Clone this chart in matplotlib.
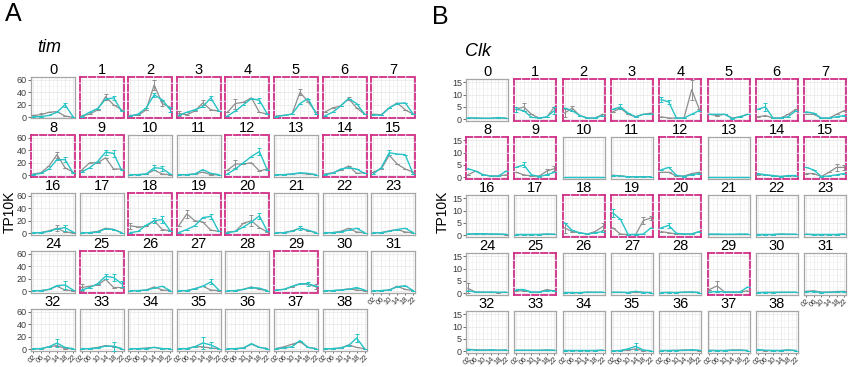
import matplotlib
matplotlib.use('Agg')
import matplotlib.pyplot as plt
from matplotlib.ticker import FixedLocator

plt.rcParams['font.family'] = ['Liberation Sans', 'DejaVu Sans']

times = ['02', '06', '10', '14', '18', '22']
clusters = list(range(39))
highlight = [1, 2, 3, 4, 5, 6, 7, 8, 9, 12, 14, 15, 18, 19, 20, 25, 29]

# ---- tim (panel A), TP10K ----
tim_gray = [
    [3, 4, 8, 9, 2, 0], [2, 5, 12, 33, 20, 12], [3, 3, 12, 52, 22, 16], [6, 4, 10, 23, 12, 10],
    [8, 22, 24, 31, 8, 5], [2, 3, 5, 40, 25, 8], [8, 15, 18, 30, 15, 5], [5, 4, 15, 23, 12, 5],
    [2, 4, 15, 33, 12, 5], [8, 20, 20, 28, 10, 10], [1, 1, 2, 8, 2, 1], [1, 1, 2, 5, 1, 1],
    [8, 18, 18, 20, 7, 10], [1, 1, 2, 3, 2, 1], [2, 4, 8, 15, 3, 4], [5, 10, 32, 18, 10, 5],
    [1, 1, 4, 8, 2, 1], [1, 1, 3, 8, 6, 1], [12, 10, 11, 20, 6, 4], [12, 31, 20, 18, 5, 3],
    [2, 3, 16, 20, 9, 2], [1, 1, 4, 8, 4, 1], [1, 1, 3, 8, 2, 1], [1, 1, 4, 6, 2, 1],
    [1, 1, 3, 8, 2, 1], [6, 8, 10, 19, 6, 6], [1, 1, 2, 7, 2, 1], [1, 1, 4, 8, 2, 1],
    [1, 1, 3, 7, 3, 1], [2, 3, 7, 12, 11, 7], [1, 1, 2, 4, 2, 1], [1, 1, 2, 8, 3, 1],
    [1, 1, 4, 6, 1, 1], [1, 1, 3, 6, 4, 1], [1, 1, 2, 3, 1, 1], [1, 1, 4, 4, 2, 1],
    [1, 1, 2, 8, 3, 1], [1, 4, 8, 12, 3, 1], [1, 1, 2, 7, 3, 1],
]
tim_cyan = [
    [1, 1, 3, 8, 20, 1], [1, 8, 14, 29, 31, 10], [2, 5, 15, 36, 28, 12], [3, 8, 12, 17, 31, 10],
    [2, 10, 20, 30, 27, 5], [1, 3, 5, 22, 30, 6], [2, 8, 18, 30, 22, 5], [4, 3, 15, 22, 23, 5],
    [1, 3, 10, 25, 25, 4], [5, 12, 22, 37, 35, 8], [1, 1, 2, 12, 11, 2], [1, 1, 2, 9, 3, 1],
    [2, 10, 20, 30, 38, 8], [1, 1, 2, 4, 3, 1], [1, 3, 10, 12, 10, 3], [2, 12, 36, 34, 33, 2],
    [1, 1, 3, 7, 9, 2], [1, 1, 2, 7, 6, 1], [1, 3, 13, 20, 22, 4], [1, 6, 12, 25, 27, 3],
    [1, 3, 10, 18, 28, 3], [1, 1, 3, 8, 5, 1], [1, 1, 2, 5, 8, 1], [1, 1, 3, 6, 8, 1],
    [1, 1, 3, 9, 10, 2], [2, 6, 12, 24, 22, 12], [1, 1, 2, 5, 8, 1], [1, 1, 4, 8, 15, 2],
    [1, 1, 3, 6, 5, 1], [2, 3, 8, 12, 12, 8], [1, 1, 2, 3, 6, 2], [1, 1, 2, 7, 9, 1],
    [1, 1, 4, 10, 3, 1], [1, 1, 2, 5, 5, 1], [1, 1, 1, 3, 1, 1], [1, 1, 4, 10, 7, 1],
    [1, 1, 2, 9, 3, 1], [1, 2, 4, 14, 3, 1], [1, 1, 2, 6, 18, 1],
]
tim_gray_err = {
    0: [0, 3, 0, 0, 0, 0], 1: [0, 0, 0, 5, 0, 0], 2: [0, 0, 0, 8, 4, 0], 3: [4, 0, 0, 4, 0, 0],
    4: [0, 8, 0, 0, 0, 0], 5: [0, 0, 0, 5, 0, 0], 6: [0, 0, 0, 3, 0, 0], 8: [0, 0, 0, 5, 0, 0],
    12: [0, 6, 0, 0, 0, 0], 16: [0, 0, 0, 5, 0, 0], 18: [5, 0, 0, 0, 0, 0], 19: [0, 6, 0, 0, 0, 0],
    20: [0, 0, 0, 9, 0, 0], 25: [5, 0, 0, 0, 0, 0], 29: [0, 0, 0, 0, 0, 4],
}
tim_cyan_err = {
    0: [0, 0, 0, 0, 3, 0], 1: [0, 0, 0, 0, 3, 0], 2: [0, 0, 0, 3, 0, 4], 3: [0, 0, 0, 0, 3, 0],
    4: [0, 0, 0, 0, 4, 0], 8: [0, 0, 0, 0, 4, 0], 9: [0, 0, 0, 4, 5, 0], 10: [0, 0, 0, 4, 4, 0],
    12: [0, 0, 0, 0, 6, 0], 15: [0, 0, 4, 0, 0, 0], 16: [0, 0, 0, 0, 5, 0], 18: [0, 0, 0, 4, 5, 0],
    19: [0, 0, 0, 0, 4, 0], 20: [0, 0, 0, 0, 5, 0], 21: [0, 0, 0, 3, 0, 0], 24: [0, 0, 0, 0, 6, 0],
    25: [0, 0, 0, 4, 5, 5], 27: [0, 0, 0, 0, 4, 0], 29: [0, 0, 0, 0, 3, 0], 32: [0, 0, 0, 6, 0, 0],
    33: [0, 0, 0, 0, 7, 0], 35: [0, 0, 0, 9, 5, 0], 38: [0, 0, 0, 0, 7, 0],
}

# ---- Clk (panel B), TP10K ----
clk_gray = [
    [0.5, 0.5, 0.4, 0.4, 0.6, 0.4], [4, 5, 2, 0.5, 0.8, 5], [2.5, 4.5, 1.5, 0.5, 0.5, 2], [3, 4.5, 2, 1, 2, 2.5],
    [1, 0.5, 0.5, 0.5, 12, 4], [2, 1.5, 2, 0.5, 1, 2], [1, 1.5, 0.5, 0.5, 2, 4], [2, 2, 0.5, 0.5, 2, 3.5],
    [1, 2.5, 1, 0.5, 0.5, 1], [2, 1, 0.5, 0.5, 2.5, 3.5], [0.3, 0.3, 0.3, 0.3, 0.3, 0.3], [0.8, 0.6, 0.2, 0.2, 0.2, 0.2],
    [2, 2, 0.5, 0.5, 1.5, 2], [0.2, 0.2, 0.2, 0.2, 0.2, 0.2], [1, 1, 0.5, 0.3, 0.5, 0.5], [1.5, 1.5, 0.3, 2, 4, 4],
    [0.5, 0.5, 0.6, 0.5, 0.4, 0.3], [0.3, 0.3, 0.3, 0.3, 0.5, 0.4], [3, 1.5, 1, 0.5, 1.5, 3.5], [3, 0.5, 0.3, 0.3, 6, 7],
    [1.5, 1, 0.5, 0.5, 0.5, 1.5], [0.4, 0.4, 0.4, 0.4, 0.4, 0.4], [0.3, 0.3, 0.3, 0.5, 0.4, 0.4], [0.4, 0.3, 0.3, 0.3, 0.3, 0.5],
    [2, 0.5, 0.5, 0.4, 0.3, 0.4], [1, 1, 0.5, 0.5, 1.5, 1], [0.3, 0.3, 0.2, 0.5, 0.4, 0.4], [0.4, 0.4, 0.3, 0.5, 0.4, 0.3],
    [0.3, 0.4, 0.3, 0.5, 0.5, 0.3], [1.5, 3, 0.5, 0.5, 0.5, 1], [0.3, 0.4, 0.4, 0.4, 0.4, 0.4], [0.8, 1, 0.5, 0.5, 0.7, 0.8],
    [0.8, 0.6, 0.5, 0.5, 0.4, 0.5], [0.4, 0.4, 0.4, 0.4, 0.5, 0.4], [0.3, 0.3, 0.3, 0.3, 0.3, 0.5], [0.2, 0.3, 0.5, 1, 0.3, 0.2],
    [0.3, 0.3, 0.4, 0.5, 0.5, 0.3], [0.4, 0.3, 0.3, 0.5, 0.5, 0.3], [0.6, 0.3, 0.3, 0.3, 0.5, 0.3],
]
clk_cyan = [
    [0.6, 0.5, 0.4, 0.4, 0.7, 0.4], [4, 3.5, 0.8, 0.5, 1, 3.5], [4.5, 3.5, 1.5, 0.5, 0.5, 1.5], [4, 5, 2.5, 1, 2, 2],
    [8, 7, 0.5, 0.5, 2, 3.5], [2, 2, 2, 0.3, 1, 2], [4, 5, 0.5, 0.5, 1, 3.5], [3, 2.5, 0.5, 0.5, 1, 1.5],
    [3.5, 2.5, 1, 0.5, 0.5, 2.5], [4, 5, 1, 0.3, 1, 2], [0.3, 0.3, 0.3, 0.3, 0.3, 0.3], [0.7, 0.5, 0.2, 0.2, 0.2, 0.2],
    [3, 4, 0.8, 0.3, 1, 1.5], [0.2, 0.2, 0.2, 0.2, 0.2, 0.2], [1.5, 1, 0.7, 0.3, 0.7, 0.7], [4, 3, 0.3, 0.5, 1, 1.5],
    [0.5, 0.6, 0.6, 0.5, 0.5, 0.4], [0.3, 0.3, 0.3, 0.3, 0.5, 0.4], [5, 2, 1, 0.5, 1, 1.5], [9, 6.5, 0.3, 0.3, 0.5, 3],
    [3, 4, 0.8, 0.5, 0.5, 1.5], [0.5, 0.5, 0.4, 0.4, 0.5, 0.5], [0.3, 0.3, 0.3, 0.5, 0.4, 0.4], [0.4, 0.3, 0.3, 0.3, 0.3, 0.5],
    [1, 0.5, 0.4, 0.5, 0.4, 0.4], [1.5, 1.5, 0.5, 0.5, 1, 1], [0.3, 0.3, 0.3, 0.4, 0.4, 0.4], [0.4, 0.4, 0.3, 0.8, 0.3, 0.3],
    [0.3, 0.3, 0.3, 0.4, 0.5, 0.3], [0.5, 0.7, 0.5, 0.5, 0.5, 2.5], [0.3, 0.3, 0.3, 0.4, 0.4, 0.4], [0.6, 0.7, 0.3, 0.4, 0.5, 0.6],
    [0.7, 0.5, 0.4, 0.6, 0.4, 0.5], [0.4, 0.4, 0.4, 0.4, 0.5, 0.4], [0.3, 0.3, 0.3, 0.3, 0.3, 0.4], [0.2, 0.3, 1, 2, 0.5, 0.2],
    [0.3, 0.3, 0.3, 0.4, 0.6, 0.4], [0.3, 0.3, 0.3, 0.4, 0.4, 0.3], [0.7, 0.4, 0.3, 0.3, 0.5, 0.3],
]
clk_gray_err = {
    1: [0, 1.5, 0, 0, 0, 0], 2: [1.5, 1, 0, 0, 0, 0], 4: [0, 0, 0, 0, 4, 0], 9: [0, 0, 0, 0, 1, 1],
    15: [0, 0, 0, 0, 1.5, 1], 18: [2, 0, 0, 0, 0, 1.5], 19: [0, 0, 0, 0, 1.5, 1], 24: [2, 0, 0, 0, 0, 0],
    29: [0, 2, 0, 0, 0, 0],
}
clk_cyan_err = {
    1: [1, 0, 0, 0, 0, 1.5], 3: [0, 1, 0, 0, 0, 0], 4: [1, 1, 0, 0, 0, 0], 6: [0, 1.5, 0, 0, 0, 0],
    9: [0, 1, 0, 0, 0, 0], 19: [1.5, 0, 0, 0, 0, 0], 20: [0, 1, 0, 0, 0, 0], 35: [0, 0, 0, 1.5, 0, 0],
}

GRAY = '#8E8E8E'
CYAN = '#27C3C6'
MAG = '#CF2F86'
FRAME = '#A6A6A6'

fig = plt.figure(figsize=(8.5, 3.67), dpi=100)
W, H = 850.0, 367.0


def draw_block(x0, dx, wbox, y0, dy, hbox, gray, cyan, gerr, cerr, ylim, yticks, yminor):
    for k in clusters:
        r, c = divmod(k, 8)
        left = x0 + dx * c
        top = y0 + dy * r
        ax = fig.add_axes([left / W, 1 - (top + hbox) / H, wbox / W, hbox / H])
        xs = list(range(len(times)))
        ge = gerr.get(k, [0] * 6)
        ce = cerr.get(k, [0] * 6)
        ax.errorbar(xs, gray[k], yerr=ge, color=GRAY, lw=0.9, elinewidth=0.7,
                    capsize=1.3, capthick=0.7, zorder=3)
        ax.errorbar(xs, cyan[k], yerr=ce, color=CYAN, lw=1.0, elinewidth=0.7,
                    capsize=1.3, capthick=0.7, zorder=4)
        ax.set_xlim(-0.25, 5.25)
        ax.set_ylim(*ylim)
        ax.set_xticks(xs)
        ax.xaxis.set_minor_locator(FixedLocator([i + 0.5 for i in range(5)]))
        ax.set_yticks(yticks)
        ax.yaxis.set_minor_locator(FixedLocator(yminor))
        ax.grid(True, which='major', color='#E6E6E6', lw=0.5, zorder=0)
        ax.grid(True, which='minor', color='#F1F1F1', lw=0.4, zorder=0)
        ax.set_axisbelow(True)
        ax.set_title(str(k), fontsize=10.5, pad=2)
        show_y = (c == 0)
        show_x = (k >= 31)
        ax.tick_params(axis='y', which='major', length=2 if show_y else 0, width=0.6,
                       color='#555555', labelsize=6.5, labelcolor='#3A3A3A', pad=1,
                       labelleft=show_y)
        ax.tick_params(axis='x', which='major', length=1.5 if show_x else 0, width=0.6,
                       color='#555555', labelsize=5.5, labelcolor='#3A3A3A', pad=0.5,
                       labelbottom=show_x)
        ax.tick_params(which='minor', length=0)
        if show_x:
            ax.set_xticklabels(times, rotation=45, ha='right', rotation_mode='anchor')
        if k in highlight:
            for sp in ax.spines.values():
                sp.set_edgecolor(MAG)
                sp.set_linewidth(1.3)
                sp.set_linestyle((0, (3.5, 1.5)))
        else:
            for sp in ax.spines.values():
                sp.set_edgecolor(FRAME)
                sp.set_linewidth(0.9)


draw_block(31, 48.6, 44, 77, 58, 41.5, tim_gray, tim_cyan, tim_gray_err, tim_cyan_err,
           (-2, 64.5), [0, 20, 40, 60], [10, 30, 50])
draw_block(466, 48.3, 42, 79, 58, 41.5, clk_gray, clk_cyan, clk_gray_err, clk_cyan_err,
           (-0.5, 16.3), [0, 5, 10, 15], [2.5, 7.5, 12.5])

fig.text(5 / W, 1 - 14 / H, 'A', fontsize=18, va='center', ha='left')
fig.text(432 / W, 1 - 17 / H, 'B', fontsize=18, va='center', ha='left')
fig.text(37 / W, 1 - 48 / H, 'tim', fontsize=13, style='italic', va='center', ha='left')
fig.text(465 / W, 1 - 52 / H, 'Clk', fontsize=13, style='italic', va='center', ha='left')
fig.text(10 / W, 1 - 212 / H, 'TP10K', fontsize=10, rotation=90, va='center', ha='center')
fig.text(443 / W, 1 - 212 / H, 'TP10K', fontsize=10, rotation=90, va='center', ha='center')

fig.savefig('out.png', dpi=100)
